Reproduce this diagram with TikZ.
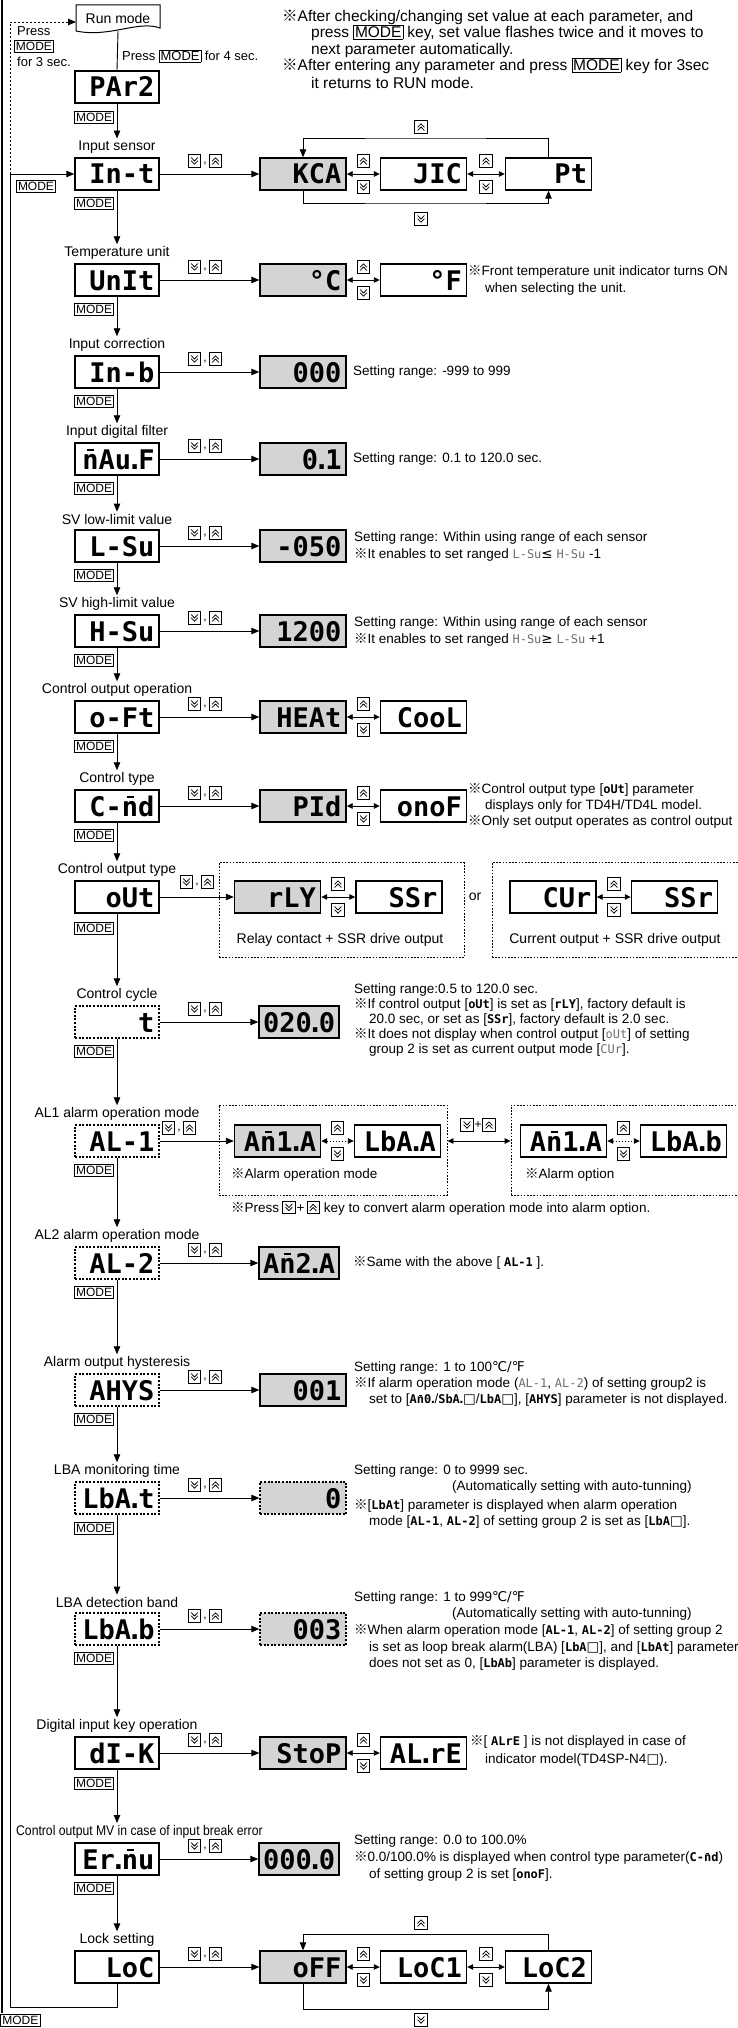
\documentclass[tikz,border=0pt]{standalone}
\usepackage{fontspec}
\setmainfont{Liberation Sans}
\newfontfamily\segfont{DejaVu Sans Mono}
\newfontfamily\cjkf{Noto Sans CJK JP}
\newfontfamily\djf{DejaVu Sans}
\newfontfamily\narrowf[FakeStretch=0.87]{Liberation Sans}
\usetikzlibrary{arrows.meta}
\definecolor{boxgray}{RGB}{212,212,212}
\definecolor{seggray}{RGB}{110,110,110}
\newcommand\mk{{\cjkf ※}}
\newcommand\sdot{\kern-0.17em.\kern-0.17em}
\newcommand\nb{\makebox[0pt][l]{\kern0.17em\raisebox{0.66em}{\rule{0.27em}{0.09em}}}n}
\newcommand\sgb[1]{{\segfont\bfseries\fontsize{12}{12}\selectfont #1}}
\newcommand\sgg[1]{{\segfont\fontsize{12}{12}\selectfont\color{seggray}#1}}
\newcommand\modein{{\fboxsep=1pt\fboxrule=0.6pt\fbox{MODE}}}
\newcommand\sq{{\djf □}}
\newcommand\kpair[3]{\pic at ({#2-10.5},#3) {dnk}; \node[inner sep=0pt, font=\fontsize{12}{12}\selectfont] (#1) at (#2,{#3+3}) {,}; \pic at ({#2+10.5},#3) {upk};}
\newcommand\vk[2]{\pic at (#1,{#2-13}) {upk}; \pic at (#1,{#2+13}) {dnk};}
\tikzset{
  pbox/.style={draw, line width=1.4pt, fill=white, minimum width=84pt, minimum height=32pt, inner sep=0pt, text width=75pt, align=right, text height=20pt, text depth=0pt, font=\segfont\bfseries\fontsize{27}{27}\selectfont},
  dbox/.style={pbox, dash pattern=on 2pt off 1.6pt},
  vbox/.style={pbox, minimum width=86pt, text width=77pt},
  gbox/.style={vbox, fill=boxgray},
  nbox/.style={gbox, minimum width=80pt, text width=72pt},
  lab/.style={font=\fontsize{14}{16}\selectfont, inner sep=0pt},
  note/.style={anchor=west, inner sep=0pt, font=\fontsize{13.5}{15}\selectfont},
  topnote/.style={note, font=\fontsize{15.5}{17}\selectfont},
  modek/.style={draw, line width=0.6pt, inner sep=1.6pt, font=\fontsize{12}{12}\selectfont, text height=8.8pt, text depth=0pt},
  conn/.style={line width=0.9pt},
  arr/.style={conn, -{Triangle[length=8pt, width=6.5pt]}},
  dbl/.style={conn, {Triangle[length=6pt, width=5.5pt]}-{Triangle[length=6pt, width=5.5pt]}},
  grp/.style={draw, line width=0.9pt, dash pattern=on 1.6pt off 1.6pt, inner sep=0pt},
  pics/upk/.style={code={\draw[line width=0.6pt, fill=white] (-6.25,-6.25) rectangle (6.25,6.25); \draw[line width=0.8pt, line cap=round, line join=round] (-3.25,0.2)--(0,-3.2)--(3.25,0.2) (-3.25,3.4)--(0,0)--(3.25,3.4);}},
  pics/dnk/.style={code={\draw[line width=0.6pt, fill=white] (-6.25,-6.25) rectangle (6.25,6.25); \draw[line width=0.8pt, line cap=round, line join=round] (-3.25,-0.2)--(0,3.2)--(3.25,-0.2) (-3.25,-3.4)--(0,0)--(3.25,-3.4);}},
}
\begin{document}
\begin{tikzpicture}[x=1pt,y=-1pt]
\fill[white] (0,0) rectangle (738,2028);
\useasboundingbox (0,0) rectangle (738,2028);

% left rail
\draw[line width=1.6pt] (2,0) -- (2,2013);

% top notes
\node[topnote] (tn1) at (282,17) {\mk After checking/changing set value at each parameter, and};
\node[topnote] (tn2) at (311,33) {press \modein{} key, set value flashes twice and it moves to};
\node[topnote] (tn3) at (311,50) {next parameter automatically.};
\node[topnote] (tn4) at (282,66) {\mk After entering any parameter and press \modein{} key for 3sec};
\node[topnote] (tn5) at (311,83) {it returns to RUN mode.};

% run mode
\draw[line width=1pt, fill=white] (76,5) -- (160,5) -- (160,28) .. controls (138,20) and (110,38) .. (76,31) -- cycle;
\node[lab, minimum width=84pt, minimum height=26pt] (run) at (118,18) {Run mode};
\node[pbox] (par2) at (117,87) {PAr2};
\draw[conn] (run.south) -- (par2.north);
\node[note, font=\fontsize{13}{15}\selectfont] (p4) at (122,56) {Press \modein{} for 4 sec.};
\node[modek, anchor=east] (mpar2) at (114,117) {MODE};
\node[note, font=\fontsize{13}{15}\selectfont] (pr3) at (17,31) {Press};
\node[modek] (m3) at (34,46.5) {MODE};
\node[note, font=\fontsize{13}{15}\selectfont] (f3) at (17,62) {for 3 sec.};

% Input sensor
\node[lab] (lint) at (117,147) {Input sensor};
\node[pbox] (int) at (117,174) {In-t};
\node[modek, anchor=east] (mint) at (114,203) {MODE};
\node[modek] (mleft) at (36,186) {MODE};
\draw[arr, shorten >=2pt] (par2.south) -- (lint.north);
\node[gbox] (kca) at (303,174) {KCA};
\node[vbox] (jic) at (423.5,174) {JIC};
\node[vbox] (pt) at (548.5,174) {Pt};
\draw[arr] (int.east) -- (kca.west);
\kpair{kpint}{205}{161}
\draw[dbl] (kca.east) -- (jic.west);
\draw[dbl] (jic.east) -- (pt.west);
\vk{363.5}{174}
\vk{486}{174}
\coordinate (lt1) at (425,138);
\coordinate (lb1) at (425,203);
\draw[arr] (pt.north) |- (lt1) -| (kca.north);
\draw[arr] (kca.south) |- (lb1) -| (pt.south);
\pic at (421,127) {upk};
\pic at (421,219) {dnk};

% Temperature unit
\node[lab] (lunit) at (117,253) {Temperature unit};
\node[pbox] (unit) at (117,280) {UnIt};
\node[modek, anchor=east] (munit) at (114,309) {MODE};
\draw[arr, shorten >=2pt] (int.south) -- (lunit.north);
\node[gbox] (degc) at (303,280) {°C};
\node[vbox] (degf) at (423.5,280) {°F};
\draw[arr] (unit.east) -- (degc.west);
\kpair{kpunit}{205}{267}
\draw[dbl] (degc.east) -- (degf.west);
\vk{363.5}{280}
\node[note] (nu1) at (468,272) {\mk Front temperature unit indicator turns ON};
\node[note] (nu2) at (485,289) {when selecting the unit.};

% Input correction
\node[lab] (linb) at (117,345) {Input correction};
\node[pbox] (inb) at (117,372) {In-b};
\node[modek, anchor=east] (minb) at (114,401) {MODE};
\draw[arr, shorten >=2pt] (unit.south) -- (linb.north);
\node[gbox] (z3) at (303,372) {000};
\draw[arr] (inb.east) -- (z3.west);
\kpair{kpinb}{205}{359}
\node[note] (ninb) at (353,372) {Setting range: -999 to 999};

% Input digital filter
\node[lab] (lmavf) at (117,432) {Input digital filter};
\node[pbox] (mavf) at (117,459) {\nb Au\sdot F};
\node[modek, anchor=east] (mmavf) at (114,488) {MODE};
\draw[arr, shorten >=2pt] (inb.south) -- (lmavf.north);
\node[gbox] (v01) at (303,459) {0\sdot 1};
\draw[arr] (mavf.east) -- (v01.west);
\kpair{kpmavf}{205}{446}
\node[note] (nmavf) at (353,459) {Setting range: 0.1 to 120.0 sec.};

% SV low
\node[lab] (llsv) at (117,519) {SV low-limit value};
\node[pbox] (lsv) at (117,546) {L-Su};
\node[modek, anchor=east] (mlsv) at (114,575) {MODE};
\draw[arr, shorten >=2pt] (mavf.south) -- (llsv.north);
\node[gbox] (vm050) at (303,546) {-050};
\draw[arr] (lsv.east) -- (vm050.west);
\kpair{kplsv}{205}{533}
\node[note] (nl1) at (354,538) {Setting range: Within using range of each sensor};
\node[note] (nl2) at (354,555) {\mk It enables to set ranged \sgg{L-Su}{\djf ≤} \sgg{H-Su} -1};

% SV high
\node[lab] (lhsv) at (117,604) {SV high-limit value};
\node[pbox] (hsv) at (117,631) {H-Su};
\node[modek, anchor=east] (mhsv) at (114,660) {MODE};
\draw[arr, shorten >=2pt] (lsv.south) -- (lhsv.north);
\node[gbox] (v1200) at (303,631) {1200};
\draw[arr] (hsv.east) -- (v1200.west);
\kpair{kphsv}{205}{618}
\node[note] (nh1) at (354,623) {Setting range: Within using range of each sensor};
\node[note] (nh2) at (354,640) {\mk It enables to set ranged \sgg{H-Su}{\djf ≥} \sgg{L-Su} +1};

% Control output operation
\node[lab] (loft) at (117,690) {Control output operation};
\node[pbox] (oft) at (117,717) {o-Ft};
\node[modek, anchor=east] (moft) at (114,746) {MODE};
\draw[arr, shorten >=2pt] (hsv.south) -- (loft.north);
\node[gbox] (heat) at (303,717) {HEAt};
\node[vbox] (cool) at (423.5,717) {CooL};
\draw[arr] (oft.east) -- (heat.west);
\kpair{kpoft}{205}{704}
\draw[dbl] (heat.east) -- (cool.west);
\vk{363.5}{717}

% Control type
\node[lab] (lcmd) at (117,779) {Control type};
\node[pbox] (cmd) at (117,806) {C-\nb d};
\node[modek, anchor=east] (mcmd) at (114,835) {MODE};
\draw[arr, shorten >=2pt] (oft.south) -- (lcmd.north);
\node[gbox] (pid) at (303,806) {PId};
\node[vbox] (onof) at (423.5,806) {onoF};
\draw[arr] (cmd.east) -- (pid.west);
\kpair{kpcmd}{205}{793}
\draw[dbl] (pid.east) -- (onof.west);
\vk{363.5}{806}
\node[note] (nc1) at (468,790) {\mk Control output type [\sgb{oUt}] parameter};
\node[note] (nc2) at (485,806) {displays only for TD4H/TD4L model.};
\node[note] (nc3) at (468,822) {\mk Only set output operates as control output};

% Control output type
\node[grp, minimum width=245pt, minimum height=95pt] (g1) at (341.5,910) {};
\node[grp, minimum width=253pt, minimum height=95pt] (g2) at (618.5,910) {};
\node[lab] (lout) at (117,870) {Control output type};
\node[pbox] (out) at (117,897) {oUt};
\node[modek, anchor=east] (mout) at (114,928) {MODE};
\draw[arr, shorten >=2pt] (cmd.south) -- (lout.north);
\node[gbox] (rly) at (277.5,897) {rLY};
\node[vbox] (ssra) at (399,897) {SSr};
\node[vbox] (cur) at (553,897) {CUr};
\node[vbox] (ssrb) at (674.5,897) {SSr};
\draw[arr] (out.east) -- (rly.west);
\kpair{kpout}{197}{882}
\draw[dbl] (rly.east) -- (ssra.west);
\draw[dbl] (cur.east) -- (ssrb.west);
\vk{338}{897}
\vk{614}{897}
\node[lab] (orl) at (475,897) {or};
\node[lab] (rlyt) at (340,940) {Relay contact + SSR drive output};
\node[lab] (curt) at (615,940) {Current output + SSR drive output};

% Control cycle
\node[lab] (ltcy) at (117,995) {Control cycle};
\node[dbox] (tcy) at (117,1022) {t};
\node[modek, anchor=east] (mtcy) at (114,1051) {MODE};
\draw[arr, shorten >=2pt] (out.south) -- (ltcy.north);
\node[nbox] (v020) at (299,1022) {020\sdot 0};
\draw[arr] (tcy.east) -- (v020.west);
\kpair{kptcy}{205}{1009}
\node[note] (nt1) at (354,990) {Setting range:0.5 to 120.0 sec.};
\node[note] (nt2) at (354,1005) {\mk If control output [\sgb{oUt}] is set as [\sgb{rLY}], factory default is};
\node[note] (nt3) at (369,1020) {20.0 sec, or set as [\sgb{SSr}], factory default is 2.0 sec.};
\node[note] (nt4) at (354,1035) {\mk It does not display when control output [\sgg{oUt}] of setting};
\node[note] (nt5) at (369,1050) {group 2 is set as current output mode [\sgg{CUr}].};

% AL1
\node[grp, minimum width=228pt, minimum height=90pt] (gA) at (333,1150) {};
\node[grp, minimum width=234pt, minimum height=90pt] (gB) at (628,1150) {};
\node[lab] (lal1) at (117,1114) {AL1 alarm operation mode};
\node[dbox] (al1) at (117,1141) {AL-1};
\node[modek, anchor=east] (mal1) at (114,1170) {MODE};
\draw[arr, shorten >=2pt] (tcy.south) -- (lal1.north);
\node[gbox] (am1a) at (277.5,1141) {A\nb 1\sdot A};
\node[vbox] (lbaa) at (397.5,1141) {LbA\sdot A};
\node[vbox] (am1b) at (563.5,1141) {A\nb 1\sdot A};
\node[vbox] (lbbb) at (683.5,1141) {LbA\sdot b};
\draw[arr] (al1.east) -- (am1a.west);
\kpair{kpal1}{179}{1128}
\draw[dbl, dash pattern=on 1.5pt off 1.5pt] (am1a.east) -- (lbaa.west);
\draw[dbl, dash pattern=on 1.5pt off 1.5pt] (am1b.east) -- (lbbb.west);
\vk{337.5}{1141}
\vk{623.5}{1141}
\draw[dbl] (gA.east |- lbaa.east) -- (gB.west |- lbaa.east);
\pic at (467,1125) {dnk};
\node[inner sep=0pt, font=\fontsize{12}{12}\selectfont] (kplus) at (478,1125) {+};
\pic at (489,1125) {upk};
\node[note] (na1) at (231,1175) {\mk Alarm operation mode};
\node[note] (na2) at (525,1175) {\mk Alarm option};
\node[note, anchor=base west] (na3a) at (231,1212) {\mk Press};
\pic at ([xshift=9.5pt,yshift=4.5pt]na3a.base east) {dnk};
\node[note, anchor=base west] (na3b) at ([xshift=17pt]na3a.base east) {+};
\pic at ([xshift=8.5pt,yshift=4.5pt]na3b.base east) {upk};
\node[note, anchor=base west] (na3c) at ([xshift=19pt]na3b.base east) {key to convert alarm operation mode into alarm option.};

% AL2
\node[lab] (lal2) at (117,1236) {AL2 alarm operation mode};
\node[dbox] (al2) at (117,1263) {AL-2};
\node[modek, anchor=east] (mal2) at (114,1292) {MODE};
\draw[arr, shorten >=2pt] (al1.south) -- (lal2.north);
\node[nbox] (am2a) at (299,1263) {A\nb 2\sdot A};
\draw[arr] (al2.east) -- (am2a.west);
\kpair{kpal2}{205}{1250}
\node[note] (nal2) at (353,1263) {\mk Same with the above [ \sgb{AL-1} ].};

% AHYS
\node[lab] (lahys) at (117,1363) {Alarm output hysteresis};
\node[dbox] (ahys) at (117,1390) {AHYS};
\node[modek, anchor=east] (mahys) at (114,1419) {MODE};
\draw[arr, shorten >=2pt] (al2.south) -- (lahys.north);
\node[gbox] (v001) at (303,1390) {001};
\draw[arr] (ahys.east) -- (v001.west);
\kpair{kpahys}{205}{1377}
\node[note] (nah1) at (354,1368) {Setting range: 1 to 100{\djf ℃/℉}};
\node[note] (nah2) at (354,1384) {\mk If alarm operation mode (\sgg{AL-1}, \sgg{AL-2}) of setting group2 is};
\node[note] (nah3) at (369,1400) {set to [\sgb{A\nb 0\sdot}/\sgb{SbA\sdot}\sq/\sgb{LbA}\sq], [\sgb{AHYS}] parameter is not displayed.};

% LBA monitoring time
\node[lab] (llbat) at (117,1471) {LBA monitoring time};
\node[dbox] (lbat) at (117,1498) {LbA\sdot t};
\node[modek, anchor=east] (mlbat) at (114,1528) {MODE};
\draw[arr, shorten >=2pt] (ahys.south) -- (llbat.north);
\node[gbox, dash pattern=on 2pt off 1.6pt] (v0) at (303,1498) {0};
\draw[arr] (lbat.east) -- (v0.west);
\kpair{kplbat}{205}{1485}
\node[note] (nlt1) at (354,1471) {Setting range: 0 to 9999 sec.};
\node[note] (nlt2) at (452,1487) {(Automatically setting with auto-tunning)};
\node[note] (nlt3) at (354,1506) {\mk[\sgb{LbAt}] parameter is displayed when alarm operation};
\node[note] (nlt4) at (369,1522) {mode [\sgb{AL-1}, \sgb{AL-2}] of setting group 2 is set as [\sgb{LbA}\sq].};

% LBA detection band
\node[lab] (llbab) at (117,1602) {LBA detection band};
\node[dbox] (lbab) at (117,1629) {LbA\sdot b};
\node[modek, anchor=east] (mlbab) at (114,1658) {MODE};
\draw[arr, shorten >=2pt] (lbat.south) -- (llbab.north);
\node[gbox, dash pattern=on 2pt off 1.6pt] (v003) at (303,1629) {003};
\draw[arr] (lbab.east) -- (v003.west);
\kpair{kplbab}{205}{1616}
\node[note] (nlb1) at (354,1598) {Setting range: 1 to 999{\djf ℃/℉}};
\node[note] (nlb2) at (452,1614) {(Automatically setting with auto-tunning)};
\node[note] (nlb3) at (354,1631) {\mk When alarm operation mode [\sgb{AL-1}, \sgb{AL-2}] of setting group 2};
\node[note] (nlb4) at (369,1648) {is set as loop break alarm(LBA) [\sgb{LbA}\sq], and [\sgb{LbAt}] parameter};
\node[note] (nlb5) at (369,1664) {does not set as 0, [\sgb{LbAb}] parameter is displayed.};

% Digital input key
\node[lab] (ldik) at (117,1726) {Digital input key operation};
\node[pbox] (dik) at (117,1753) {dI-K};
\node[modek, anchor=east] (mdik) at (114,1783) {MODE};
\draw[arr, shorten >=2pt] (lbab.south) -- (ldik.north);
\node[gbox] (stop) at (303,1753) {StoP};
\node[vbox] (alre) at (423.5,1753) {AL\sdot rE};
\draw[arr] (dik.east) -- (stop.west);
\kpair{kpdik}{205}{1740}
\draw[dbl] (stop.east) -- (alre.west);
\vk{363.5}{1753}
\node[note] (nd1) at (470,1742) {\mk[ \sgb{ALrE} ] is not displayed in case of};
\node[note] (nd2) at (485,1760) {indicator model(TD4SP-N4\sq).};

% Control output MV
\node[lab, anchor=west, font=\narrowf\fontsize{14}{16}\selectfont] (lermv) at (16,1832) {Control output MV in case of input break error};
\node[pbox] (ermv) at (117,1859) {Er\sdot\nb u};
\node[modek, anchor=east] (mermv) at (114,1888) {MODE};
\coordinate (ermvin) at (117,1823);
\draw[arr] (dik.south) -- (ermvin);
\node[nbox] (v0000) at (299,1859) {000\sdot 0};
\draw[arr] (ermv.east) -- (v0000.west);
\kpair{kpermv}{205}{1846}
\node[note] (ne1) at (354,1841) {Setting range: 0.0 to 100.0\%};
\node[note] (ne2) at (354,1858) {\mk 0.0/100.0\% is displayed when control type parameter(\sgb{C-\nb d})};
\node[note] (ne3) at (369,1875) {of setting group 2 is set [\sgb{onoF}].};

% Lock setting
\node[lab] (lloc) at (117,1940) {Lock setting};
\node[pbox] (loc) at (117,1967) {LoC};
\draw[arr, shorten >=2pt] (ermv.south) -- (lloc.north);
\node[gbox] (off) at (303,1967) {oFF};
\node[vbox] (loca) at (423.5,1967) {LoC1};
\node[vbox] (locb) at (548.5,1967) {LoC2};
\draw[arr] (loc.east) -- (off.west);
\kpair{kploc}{205}{1954}
\draw[dbl] (off.east) -- (loca.west);
\draw[dbl] (loca.east) -- (locb.west);
\vk{363.5}{1967}
\vk{486}{1967}
\coordinate (lt2) at (425,1934);
\coordinate (lb2) at (425,2009);
\draw[arr] (locb.north) |- (lt2) -| (off.north);
\draw[arr] (off.south) |- (lb2) -| (locb.south);
\pic at (421,1923) {upk};
\pic at (421,2020) {dnk};

% return loops
\coordinate (lpt) at (10,174);
\coordinate (lpb) at (10,2007);
\coordinate (runin) at (76,22);
\draw[arr] (loc.south) |- (lpb) |- (int.west);
\draw[arr, dash pattern=on 2pt off 2pt] (lpt) |- (runin);
\node[modek, anchor=west] (mbot) at (0.5,2020) {MODE};
\end{tikzpicture}
\end{document}
